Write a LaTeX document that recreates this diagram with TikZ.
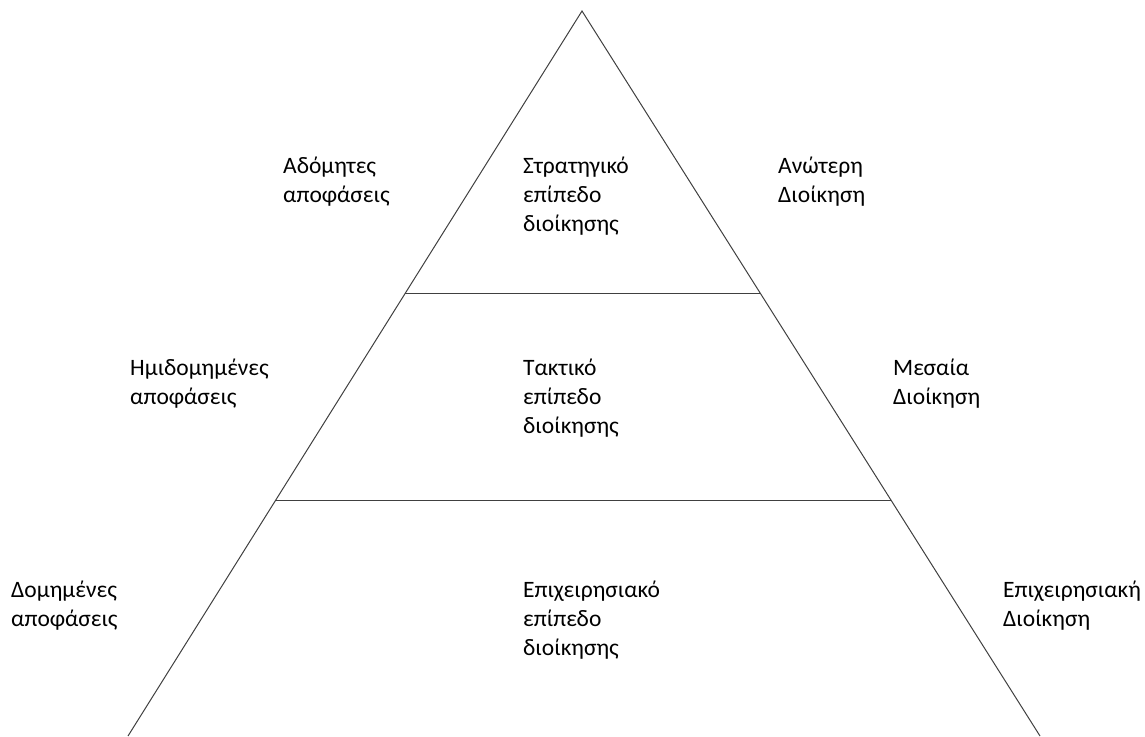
\documentclass[tikz,border=0pt]{standalone}
\usepackage{fontspec}
\setmainfont{Carlito}
\usepackage{xcolor}
\usepackage{tikz}
\usetikzlibrary{calc}
\newcommand{\lblfont}{\fontsize{23.5}{29}\selectfont}

\begin{document}
\begin{tikzpicture}[x=1pt,y=-1pt,
  lbl/.style={anchor=north west,inner sep=0pt,align=left,font=\lblfont}]
  \useasboundingbox (0,0) rectangle (1145,736);
  \coordinate (T) at (582,11);
  \coordinate (L) at (128,736);
  \coordinate (R) at (1040,736);
  \coordinate (A1) at ($(T)!0.39!(L)$);
  \coordinate (B1) at ($(T)!0.39!(R)$);
  \coordinate (A2) at ($(T)!0.6745!(L)$);
  \coordinate (B2) at ($(T)!0.6745!(R)$);
  \draw[line width=1pt,black!75] (L) -- (T) -- (R);
  \draw[line width=1pt,black!75] (A1) -- (B1);
  \draw[line width=1pt,black!75] (A2) -- (B2);
  % top level
  \node[lbl] (adom) at (283,157) {Αδόμητες\\αποφάσεις};
  \node[lbl] (strat) at (523,157) {Στρατηγικό\\επίπεδο\\διοίκησης};
  \node[lbl] (anot) at (778,157) {Ανώτερη\\Διοίκηση};
  % middle level
  \node[lbl] (imid) at (130,359) {Ημιδομημένες\\αποφάσεις};
  \node[lbl] (takt) at (523,359) {Τακτικό\\επίπεδο\\διοίκησης};
  \node[lbl] (mesa) at (893,359) {Μεσαία\\Διοίκηση};
  % bottom level
  \node[lbl] (dom) at (11,581) {Δομημένες\\αποφάσεις};
  \node[lbl] (epix) at (523,581) {Επιχειρησιακό\\επίπεδο\\διοίκησης};
  \node[lbl] (epixd) at (1003,581) {Επιχειρησιακή\\Διοίκηση};
\end{tikzpicture}
\end{document}
